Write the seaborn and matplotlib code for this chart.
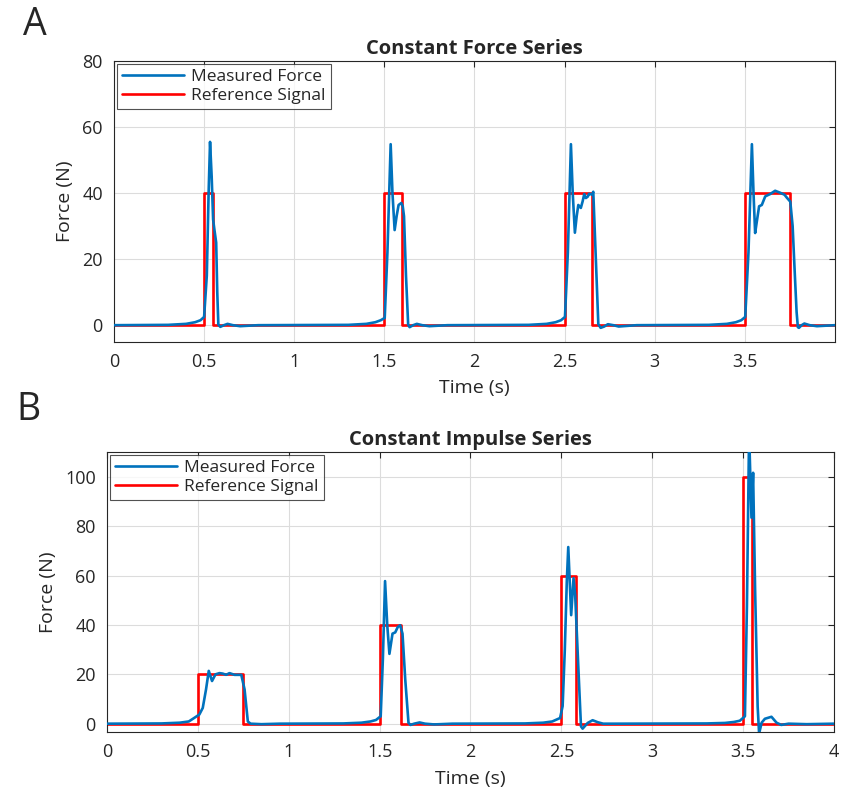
import matplotlib
matplotlib.use("Agg")
import matplotlib.pyplot as plt
import seaborn as sns
import pandas as pd

# Panel A - constant force series
t_meas_a = [0.0, 0.3, 0.4, 0.45, 0.48, 0.5, 0.515, 0.525, 0.533, 0.542, 0.55, 0.557, 0.567, 0.573, 0.579,
            0.59, 0.61, 0.63, 0.66, 0.7, 0.8,
            1.3, 1.4, 1.45, 1.48, 1.502, 1.517, 1.535, 1.545, 1.557, 1.568, 1.579, 1.594, 1.602, 1.609, 1.62, 1.632,
            1.64, 1.66, 1.68, 1.71, 1.75, 1.85,
            2.3, 2.4, 2.45, 2.48, 2.502, 2.518, 2.535, 2.545, 2.557, 2.567, 2.576, 2.59, 2.6, 2.609, 2.618, 2.628,
            2.636, 2.643, 2.652, 2.659, 2.672, 2.687, 2.7, 2.72, 2.74, 2.77, 2.8, 2.9,
            3.3, 3.4, 3.45, 3.48, 3.502, 3.52, 3.539, 3.548, 3.557, 3.568, 3.579, 3.594, 3.613, 3.64, 3.668, 3.696,
            3.72, 3.733, 3.752, 3.765, 3.776, 3.787, 3.794, 3.8, 3.815, 3.83, 3.86, 3.9, 4.0]
f_meas_a = [0.0, 0.1, 0.4, 0.9, 1.5, 2.5, 15, 40, 55.5, 45, 32, 29, 25, 10, 0.2,
            -0.5, 0.0, 0.4, 0.0, -0.3, 0.0,
            0.1, 0.4, 0.9, 1.5, 2.2, 22, 54.8, 40, 28.8, 33, 36.4, 37, 36, 33, 15, 0.2,
            -0.6, 0.0, 0.4, 0.0, -0.3, 0.0,
            0.1, 0.4, 0.9, 1.5, 2.5, 22, 54.8, 40, 28, 33, 36.4, 35.5, 37.5, 39.7, 38.5, 38.9,
            39.8, 39.7, 39.5, 40.4, 21.8, 0.3, -0.8, -0.4, 0.3, 0.0, -0.4, 0.0,
            0.1, 0.4, 0.9, 1.5, 2.5, 22, 54.8, 40, 27.9, 32, 36, 36.4, 39, 39.7, 40.7, 40.1,
            39.5, 38.6, 37.4, 30, 16.7, 4, -0.6, -0.8, 0.0, 0.5, 0.0, -0.3, 0.0]
t_ref_a = [0.0, 0.5, 0.5, 0.55, 0.55, 1.5, 1.5, 1.6, 1.6, 2.5, 2.5, 2.65, 2.65, 3.5, 3.5, 3.75, 3.75, 4.0]
f_ref_a = [0, 0, 40, 40, 0, 0, 40, 40, 0, 0, 40, 40, 0, 0, 40, 40, 0, 0]

# Panel B - constant impulse series
t_meas_b = [0.0, 0.3, 0.4, 0.45, 0.471, 0.508, 0.527, 0.545, 0.56, 0.578, 0.597, 0.619, 0.637, 0.656, 0.674,
            0.702, 0.739, 0.757, 0.775, 0.79, 0.85, 0.95,
            1.3, 1.4, 1.45, 1.48, 1.506, 1.518, 1.53, 1.542, 1.554, 1.571, 1.586, 1.6, 1.613, 1.626, 1.641, 1.659,
            1.67, 1.69, 1.72, 1.75, 1.8, 1.9,
            2.3, 2.4, 2.45, 2.493, 2.507, 2.519, 2.53, 2.538, 2.554, 2.567, 2.576, 2.593, 2.608, 2.617, 2.645,
            2.672, 2.7, 2.73, 2.8,
            3.3, 3.4, 3.45, 3.482, 3.51, 3.521, 3.533, 3.546, 3.555, 3.566, 3.58, 3.588, 3.602, 3.62, 3.656,
            3.684, 3.71, 3.75, 3.85, 4.0]
f_meas_b = [0.0, 0.1, 0.4, 0.9, 1.9, 3.7, 6.4, 13.9, 21.4, 17.3, 20, 20.5, 20.3, 19.8, 20.5,
            19.8, 19.8, 13.9, 0.9, 0.0, -0.2, 0.0,
            0.1, 0.4, 0.9, 1.5, 3, 26.2, 57.8, 40, 28.3, 36.5, 37, 39.2, 39.9, 36.5, 18, 0.3,
            -0.5, 0.0, 0.5, 0.0, -0.3, 0.0,
            0.1, 0.4, 0.9, 2.3, 7.1, 30, 57.7, 71.6, 44, 59, 52.2, 23.5, -1.1, -2.0, 0.3,
            1.4, 0.6, 0.0, 0.0,
            0.1, 0.3, 0.7, 1.2, 3, 47.7, 118, 83.5, 101.7, 54.4, 7, -4, 0.4, 2, 2.8,
            0.4, -0.5, 0.0, -0.2, 0.0]
t_ref_b = [0.0, 0.5, 0.5, 0.75, 0.75, 1.5, 1.5, 1.62, 1.62, 2.5, 2.5, 2.58, 2.58, 3.5, 3.5, 3.55, 3.55, 4.0]
f_ref_b = [0, 0, 20, 20, 0, 0, 40, 40, 0, 0, 60, 60, 0, 0, 100, 100, 0, 0]

blue = "#0072BD"
red = "#FF0000"

sns.set_style("white")
plt.rcParams['font.family'] = ['Open Sans', 'DejaVu Sans']

fig = plt.figure(figsize=(8.43, 7.98), dpi=100)
ax_a = fig.add_axes([0.1352, 0.5718, 0.8553, 0.3518])
ax_b = fig.add_axes([0.1269, 0.0823, 0.8624, 0.3509])

panels = [
    (ax_a, t_meas_a, f_meas_a, t_ref_a, f_ref_a, "Constant Force Series", (0, 4), (-5, 80),
     [0, 0.5, 1, 1.5, 2, 2.5, 3, 3.5], [0, 20, 40, 60, 80]),
    (ax_b, t_meas_b, f_meas_b, t_ref_b, f_ref_b, "Constant Impulse Series", (0, 4), (-3.5, 110),
     [0, 0.5, 1, 1.5, 2, 2.5, 3, 3.5, 4], [0, 20, 40, 60, 80, 100]),
]

for ax, tm, fm, tr, fr, title, xl, yl, xt, yt in panels:
    meas = pd.DataFrame({"t": tm, "f": fm})
    ref = pd.DataFrame({"t": tr, "f": fr})
    sns.lineplot(data=meas, x="t", y="f", ax=ax, color=blue, lw=1.9, sort=False,
                 estimator=None, label="Measured Force", zorder=3)
    sns.lineplot(data=ref, x="t", y="f", ax=ax, color=red, lw=1.9, sort=False,
                 estimator=None, label="Reference Signal", zorder=2)
    ax.set_xlim(*xl)
    ax.set_ylim(*yl)
    ax.set_xticks(xt)
    ax.set_xticklabels([f"{v:g}" for v in xt])
    ax.set_yticks(yt)
    ax.grid(True, color="#DCDCDC", lw=0.8)
    ax.set_axisbelow(True)
    for s in ax.spines.values():
        s.set_color("#262626")
        s.set_linewidth(0.8)
    ax.tick_params(direction="in", top=True, right=True, length=4, width=0.8,
                   color="#262626", labelsize=13, labelcolor="#262626", pad=8)
    ax.set_title(title, fontsize=14.5, fontweight="bold", pad=5)
    ax.set_xlabel("Time (s)", fontsize=14, color="#262626", labelpad=6)
    ax.set_ylabel("Force (N)", fontsize=14, color="#262626", labelpad=6)
    leg = ax.legend(loc="upper left", fontsize=12.5, frameon=True, fancybox=False,
                    edgecolor="#262626", borderaxespad=0.15, handlelength=3.6,
                    borderpad=0.3, labelspacing=0.15, handletextpad=0.4)
    leg.get_frame().set_linewidth(0.8)

fig.text(35 / 843, 1 - 25 / 798, "A", fontsize=27, ha="center", va="center")
fig.text(28 / 843, 1 - 410 / 798, "B", fontsize=27, ha="center", va="center")

fig.savefig("out.png", dpi=100)
